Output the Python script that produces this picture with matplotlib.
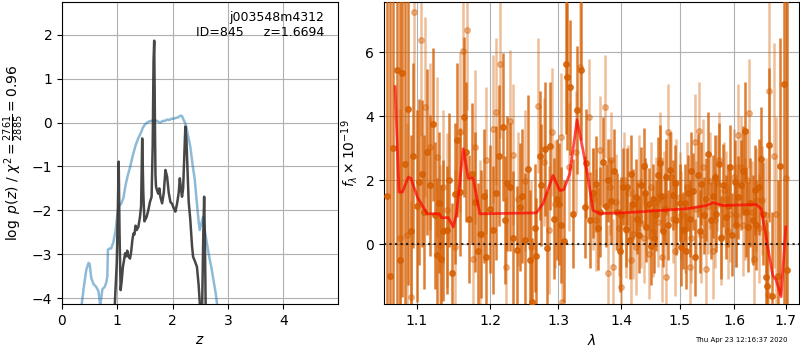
import matplotlib

matplotlib.use("Agg")
import matplotlib.pyplot as plt
from matplotlib.ticker import FixedLocator, FormatStrFormatter, NullLocator

# --- p(z) panel -----------------------------------------------------------
z_chi2 = [0.34, 0.36, 0.40, 0.44, 0.48, 0.50, 0.53, 0.57, 0.62, 0.66, 0.69,
          0.71, 0.73, 0.77, 0.80, 0.82, 0.83, 0.86, 0.89, 0.93, 0.97, 1.00,
          1.03, 1.07, 1.11, 1.15, 1.19, 1.23, 1.28, 1.33, 1.38, 1.42, 1.46,
          1.50, 1.54, 1.58, 1.62, 1.66, 1.70, 1.74, 1.78, 1.82, 1.86, 1.90,
          1.94, 1.98, 2.02, 2.06, 2.10, 2.14, 2.17, 2.20, 2.24, 2.28, 2.32,
          2.36, 2.40, 2.44, 2.47, 2.49, 2.52, 2.55, 2.58, 2.62, 2.66, 2.70,
          2.74, 2.78, 2.81, 2.84]
chi2_curve = [-4.5, -4.1, -3.7, -3.35, -3.2, -3.22, -3.55, -3.68, -3.75, -3.85,
              -4.16, -4.0, -3.8, -3.75, -3.65, -3.5, -2.9, -2.87, -2.87, -2.72,
              -2.45, -2.1, -1.9, -1.85, -1.72, -1.42, -1.2, -1.02, -0.75, -0.52,
              -0.35, -0.25, -0.12, -0.04, 0.0, 0.03, 0.04, 0.05, 0.05, 0.02,
              0.0, 0.04, 0.04, 0.07, 0.06, 0.09, 0.09, 0.11, 0.12, 0.16, 0.15,
              0.06, -0.05, -0.3, -0.55, -0.95, -1.3, -1.85, -2.25, -2.45, -2.3,
              -2.15, -2.45, -2.75, -3.05, -3.3, -3.6, -3.9, -4.2, -4.5]

z_pz = [0.94, 0.96, 0.99, 1.01, 1.025, 1.04, 1.06, 1.08, 1.10, 1.12, 1.14,
        1.16, 1.18, 1.20, 1.23, 1.25, 1.27, 1.29, 1.31, 1.33, 1.35, 1.38,
        1.41, 1.43, 1.45, 1.47, 1.49, 1.51, 1.53, 1.56, 1.59, 1.62, 1.64,
        1.655, 1.667, 1.68, 1.69, 1.70, 1.72, 1.74, 1.76, 1.78, 1.81, 1.84,
        1.87, 1.90, 1.93, 1.96, 1.99, 2.02, 2.05, 2.08, 2.11, 2.13, 2.15,
        2.17, 2.19, 2.21, 2.23, 2.25, 2.27, 2.29, 2.32, 2.35, 2.37, 2.40,
        2.44, 2.47, 2.50, 2.53, 2.555, 2.57, 2.585, 2.60]
log_pz = [-4.6, -4.0, -3.2, -2.0, -0.89, -2.5, -3.82, -3.6, -3.3, -3.15, -2.98,
          -3.05, -2.92, -3.05, -3.10, -2.95, -2.7, -2.53, -2.55, -2.35, -2.45,
          -2.38, -2.15, -1.9, -0.36, -1.6, -2.25, -2.2, -2.15, -2.0, -1.81,
          -1.69, -0.5, 1.4, 1.87, 0.0, -1.2, -1.46, -1.55, -1.62, -1.5, -1.7,
          -1.84, -1.6, -1.08, -1.23, -1.6, -1.81, -1.85, -1.95, -2.03, -1.85,
          -1.6, -1.27, -1.5, -1.69, -1.5, -0.8, -0.09, -0.4, -1.1, -1.8,
          -2.22, -2.8, -3.06, -3.15, -3.29, -3.7, -4.3, -4.5, -2.5, -1.69,
          -2.8, -4.5]

# --- 1D spectrum panel: first beam (darker) ------------------------------
wave_a = [1.0620, 1.0660, 1.0700, 1.0752, 1.0790, 1.0816, 1.0850, 1.0893,
          1.0931, 1.0957, 1.1000, 1.1030, 1.1065, 1.1100, 1.1138, 1.1173,
          1.1208, 1.1235, 1.1261, 1.1290, 1.1319, 1.1350, 1.1394, 1.1430,
          1.1465, 1.1506, 1.1538, 1.1583, 1.1629, 1.1656, 1.1702, 1.1745,
          1.1789, 1.1830, 1.1873, 1.1910, 1.1943, 1.1990, 1.2037, 1.2080,
          1.2122, 1.2180, 1.2204, 1.2240, 1.2276, 1.2330, 1.2387, 1.2422,
          1.2460, 1.2495, 1.2544, 1.2578, 1.2608, 1.2640, 1.2668, 1.2718,
          1.2743, 1.2793, 1.2828, 1.2879, 1.2930, 1.2980, 1.3011, 1.3047,
          1.3088, 1.3114, 1.3140, 1.3180, 1.3227, 1.3295, 1.3358, 1.3411,
          1.3437, 1.3500,
          1.3550, 1.3596, 1.3620, 1.3650, 1.3703, 1.3757, 1.3780, 1.3838,
          1.3880, 1.3931, 1.3975, 1.4000, 1.4030, 1.4074, 1.4096, 1.4141,
          1.4160, 1.4196, 1.4252, 1.4270, 1.4300, 1.4336, 1.4375, 1.4400,
          1.4421, 1.4466, 1.4506, 1.4535, 1.4560, 1.4580, 1.4621, 1.4661,
          1.4680, 1.4700, 1.4736, 1.4765, 1.4800, 1.4823, 1.4882, 1.4910,
          1.4940, 1.5000, 1.5030, 1.5058, 1.5090, 1.5117, 1.5150, 1.5177,
          1.5200, 1.5236, 1.5280, 1.5326, 1.5360, 1.5387, 1.5440, 1.5470,
          1.5508, 1.5560, 1.5600, 1.5630, 1.5661, 1.5720, 1.5750, 1.5785,
          1.5847, 1.5880, 1.5909, 1.5960, 1.6003, 1.6040, 1.6066, 1.6129,
          1.6160, 1.6193, 1.6220, 1.6256, 1.6300, 1.6352, 1.6390, 1.6417,
          1.6470, 1.6514, 1.6546, 1.6611, 1.6630, 1.6676, 1.6729, 1.6850,
          1.6894, 1.6960, 1.7035]
flux_a = [1.5, -1.0, 3.0, 5.45, -0.5, 5.34, 2.5, 4.23, 0.42, 2.77, 1.2, 1.94,
          2.20, 1.0, 2.88, 1.84, 3.74, 0.9, -0.34, 1.3, -0.45, 0.42, 0.44,
          2.0, -0.9, 1.58, 3.26, 1.63, 3.97, 2.88, 0.80, 2.2, 1.32, -0.2,
          0.33, 1.5, -0.39, 1.1, 0.44, 1.6, 2.77, 3.66, 0.75, 1.9, 1.79, 0.2,
          -0.17, 1.16, 1.5, 0.12, 2.36, -0.50, -1.80, 0.5, -0.37, 2.77, 1.84,
          2.98, -0.13, 3.08, 0.8, 1.4, 1.25, 0.6, 0.1, 5.63, 5.23, 4.90, 0.96,
          4.20, 5.44, 1.16, 2.53, 0.75,
          1.6, 1.89, 0.5, 1.0, 2.56, 1.2, 2.0, 1.35,
          2.3, 1.01, -0.2, 0.9, 1.8, 0.49, 1.79, 0.12,
          2.2, 1.25, 1.47, 0.8, 0.3, 1.84, 2.43, 1.6,
          0.54, 1.27, -0.06, 1.42, 0.2, 0.9, 2.15, 2.53,
          1.5, 0.4, 1.11, 2.10, 0.6, 2.31, 1.53, 1.9,
          0.75, 1.3, -0.1, 0.44, 1.3, -0.21, 1.6, 0.80,
          2.3, 1.66, -0.4, 2.15, 0.4, 1.89, 0.9, 1.4,
          2.82, 0.75, 1.5, 2.1, 0.96, 2.5, 0.2, 1.84,
          0.85, 1.2, 2.41, 0.3, 1.94, 0.6, 1.47, 1.84,
          2.3, 3.55, 1.0, 0.54, 1.3, 0.75, 1.7, 0.60,
          1.8, 2.67, 0.96, -1.02, -1.31, 3.10, -1.6, -1.0,
          2.43, 5.0, -0.81]
err_a = [12, 12, 10, 8, 9, 7, 8, 5.5, 3.0, 2.9, 3.0, 2.6, 2.3, 2.4, 2.6, 2.2,
         2.4, 2.3, 2.4, 2.2, 2.3, 2.2, 2.0, 2.1, 2.2, 2.2, 2.4, 2.0, 2.5, 2.2,
         2.0, 2.2, 2.2, 2.1, 2.0, 2.1, 2.1, 2.0, 2.0, 2.1, 2.2, 2.3, 2.0, 2.1,
         2.0, 2.1, 2.0, 2.0, 2.1, 2.1, 2.3, 2.2, 2.0, 2.0, 1.8, 2.0, 1.9, 2.1,
         1.8, 2.0, 1.9, 1.9, 1.9, 1.8, 1.9, 2.2, 2.3, 2.1, 1.7, 2.0, 2.2, 1.6,
         1.7, 1.5,
         1.4, 1.5, 1.3, 1.4, 1.4, 1.3, 1.3, 1.3,
         1.3, 1.2, 1.3, 1.2, 1.2, 1.2, 1.2, 1.2,
         1.2, 1.1, 1.2, 1.1, 1.2, 1.2, 1.2, 1.1,
         1.1, 1.1, 1.2, 1.1, 1.1, 1.1, 1.2, 1.2,
         1.1, 1.1, 1.1, 1.2, 1.1, 1.2, 1.1, 1.2,
         1.1, 1.2, 1.2, 1.2, 1.2, 1.2, 1.2, 1.2,
         1.2, 1.2, 1.2, 1.3, 1.3, 1.3, 1.2, 1.3,
         1.3, 1.2, 1.3, 1.3, 1.2, 1.3, 1.3, 1.3,
         1.3, 1.3, 1.3, 1.3, 1.3, 1.3, 1.3, 1.4,
         1.4, 1.5, 1.4, 1.4, 1.4, 1.4, 1.4, 1.4,
         1.5, 1.6, 1.6, 1.8, 2.0, 2.4, 2.6, 3.0,
         4.0, 9.0, 10.0]

# --- second beam (lighter) -----------------------------------------------
wave_b = [1.0786, 1.0871, 1.0927, 1.0964, 1.1056, 1.1108, 1.1173, 1.1261,
          1.1305, 1.1350, 1.1394, 1.1506, 1.1574, 1.1620, 1.1675, 1.1758,
          1.1781, 1.1851, 1.1943, 1.2037, 1.2084, 1.2141, 1.2227, 1.2276,
          1.2325, 1.2397, 1.2495, 1.2593, 1.2693, 1.2778, 1.2859, 1.2900,
          1.2945, 1.3042, 1.3057, 1.3166, 1.3281, 1.3332, 1.3480, 1.3543,
          1.3596, 1.3650, 1.3730,
          1.3784, 1.3810, 1.3838, 1.3865, 1.3920, 1.3960, 1.4002, 1.4040,
          1.4085, 1.4120, 1.4170, 1.4196, 1.4252, 1.4290, 1.4336, 1.4380,
          1.4421, 1.4470, 1.4500, 1.4535, 1.4592, 1.4620, 1.4650, 1.4696,
          1.4730, 1.4765, 1.4794, 1.4850, 1.4882, 1.4910, 1.4940, 1.5000,
          1.5030, 1.5088, 1.5130, 1.5177, 1.5210, 1.5266, 1.5300, 1.5344,
          1.5390, 1.5417, 1.5478, 1.5510, 1.5551, 1.5600, 1.5630, 1.5670,
          1.5710, 1.5754, 1.5800, 1.5847, 1.5880, 1.5909, 1.5990, 1.6030,
          1.6066, 1.6129, 1.6160, 1.6200, 1.6240, 1.6288, 1.6340, 1.6384,
          1.6417, 1.6470, 1.6533, 1.6600, 1.6643, 1.6676, 1.6774, 1.6808,
          1.7008]
flux_b = [0.21, 0.28, -1.64, 7.25, 6.38, 4.28, 3.05, 2.72, -0.03, 1.79, 1.06,
          -0.08, 3.50, 6.04, 6.69, -0.45, 3.03, 0.33, 2.62, 3.60, 4.14, 5.63,
          -0.71, 3.86, 2.80, 1.42, 1.99, -0.08, 4.33, 2.56, 0.44, 3.50, 1.27,
          3.34, -1.80, 2.41, 2.88, 5.52, 3.97, 1.42, 0.75, 2.93, 4.30,
          -0.89, 1.80, 2.62, -0.71, 1.32, 0.50, -1.33, 2.0,
          0.44, 1.60, -0.50, 0.33, -0.08, 1.90, 0.66, 0.20,
          1.16, -0.3, 1.80, 0.38, 1.32, 0.70, 2.62, -0.39,
          1.50, -1.02, 3.50, 2.10, 0.80, -0.20, 1.9, 1.47,
          0.90, 0.49, 1.80, -0.71, 0.20, 3.19, 1.10, 3.55,
          0.30, 2.41, -0.76, 1.20, 1.99, -0.20, 0.75, 1.90,
          2.62, 0.23, 1.70, 1.42, 0.40, 0.96, 2.1, 0.90,
          3.40, 2.41, 0.60, 1.1, 2.00, 4.09, 1.00, -0.45,
          1.39, 0.50, 1.37, 0.90, -1.59, 4.80, 2.77, 0.96,
          2.08]
err_b = [4.0, 3.5, 3.0, 4.5, 3.0, 2.8, 2.6, 2.5, 2.5, 2.4, 2.4, 2.4, 2.5,
         2.6, 2.5, 2.4, 2.4, 2.3, 2.3, 2.3, 2.3, 2.3, 2.2, 2.2, 2.2, 2.1, 2.2,
         2.1, 2.1, 2.0, 2.0, 2.0, 2.0, 2.0, 1.9, 2.0, 1.9, 2.0, 1.8, 1.6, 1.6,
         1.7, 1.6,
         1.5, 1.5, 1.5, 1.5, 1.5, 1.5, 1.5, 1.5,
         1.5, 1.5, 1.4, 1.4, 1.5, 1.5, 1.4, 1.4,
         1.4, 1.4, 1.4, 1.4, 1.4, 1.4, 1.5, 1.4,
         1.4, 1.5, 1.5, 1.4, 1.4, 1.4, 1.4, 1.4,
         1.4, 1.4, 1.4, 1.4, 1.4, 1.5, 1.5, 1.5,
         1.5, 1.5, 1.5, 1.5, 1.5, 1.5, 1.5, 1.5,
         1.5, 1.5, 1.5, 1.5, 1.5, 1.5, 1.5, 1.6,
         1.6, 1.6, 1.6, 1.6, 1.6, 1.7, 1.6, 1.6,
         1.6, 1.7, 1.7, 1.8, 2.0, 2.8, 3.5, 3.0,
         10.0]

# --- best-fit model -------------------------------------------------------
wave_model = [1.0723, 1.0773, 1.0816, 1.0893, 1.0927, 1.1009, 1.1138, 1.1297,
              1.1328, 1.1417, 1.1485, 1.1530, 1.1621, 1.1690, 1.1758, 1.1851,
              1.2668, 1.2768, 1.2919, 1.3022, 1.3083, 1.3176, 1.3290, 1.3385,
              1.3464, 1.3543, 1.3650, 1.4034, 1.4882, 1.5177, 1.5478, 1.5600,
              1.5785, 1.6417, 1.6514, 1.6643, 1.6741, 1.6808, 1.6907, 1.7000]
flux_model = [4.92, 1.63, 1.63, 2.10, 2.05, 1.47, 0.95, 0.95, 0.83, 0.83, 0.54,
              0.96, 2.98, 2.06, 2.06, 0.95, 0.98, 1.27, 2.15, 1.68, 1.70, 2.20,
              3.88, 2.93, 2.08, 1.06, 0.96, 0.98, 1.08, 1.12, 1.21, 1.30, 1.21,
              1.24, 1.11, -0.08, -0.97, -1.12, -1.64, 0.54]

G141 = (0.8352941176470589, 0.3686274509803922, 0.0)

fig = plt.figure(figsize=(8, 3.5), dpi=100)
fig.patch.set_facecolor("white")

# --- left: redshift PDF ---------------------------------------------------
ax = fig.add_axes([0.0775, 0.131, 0.345, 0.863])
ax.plot(z_chi2, chi2_curve, color="#1f77b4", alpha=0.5, linewidth=1.8)
ax.plot(z_pz, log_pz, color="0.2", alpha=0.9, linewidth=1.8)
ax.set_xlim(0, 4.99)
ax.set_ylim(-4.14, 2.75)
ax.set_yticks([-4, -3, -2, -1, 0, 1, 2])
ax.set_xticks([0, 1, 2, 3, 4])
ax.grid(True)
ax.set_axisbelow(True)
ax.set_xlabel(r"$z$")
ax.set_ylabel(r"$\log\ p(z)$ / $\chi^2=\frac{2761}{2885}=0.96$")
ax.text(0.95, 0.97, "j003548m4312\nID=845     z=1.6694",
        transform=ax.transAxes, ha="right", va="top", fontsize=9)

# --- right: 1D spectrum ---------------------------------------------------
axs = fig.add_axes([0.48, 0.131, 0.519, 0.863])
axs.errorbar(wave_b, flux_b, yerr=err_b, color=G141, alpha=0.4, marker="o",
             markersize=4, linestyle="none", elinewidth=1.8, zorder=2)
axs.errorbar(wave_a, flux_a, yerr=err_a, color=G141, alpha=0.8, marker="o",
             markersize=4, linestyle="none", elinewidth=1.8, zorder=3)
axs.plot(wave_model, flux_model, color="red", alpha=0.7, linewidth=2, zorder=5)
axs.axhline(0, color="k", linestyle=":", linewidth=1.5, alpha=0.8, zorder=6)
axs.set_xscale("log")
axs.set_xlim(1.0584, 1.7272)
axs.set_ylim(-1.87, 7.56)
axs.xaxis.set_major_locator(FixedLocator([1.1, 1.2, 1.3, 1.4, 1.5, 1.6, 1.7]))
axs.xaxis.set_major_formatter(FormatStrFormatter("%.1f"))
axs.xaxis.set_minor_locator(NullLocator())
axs.set_yticks([0, 2, 4, 6])
axs.grid(True)
axs.set_axisbelow(True)
axs.set_xlabel(r"$\lambda$")
axs.set_ylabel(r"$f_\lambda\times10^{-19}$")

fig.text(0.984, 0.028, "Thu Apr 23 12:16:37 2020", ha="right", va="center",
         fontsize=5)

fig.savefig("out.png", dpi=100, facecolor="white")
